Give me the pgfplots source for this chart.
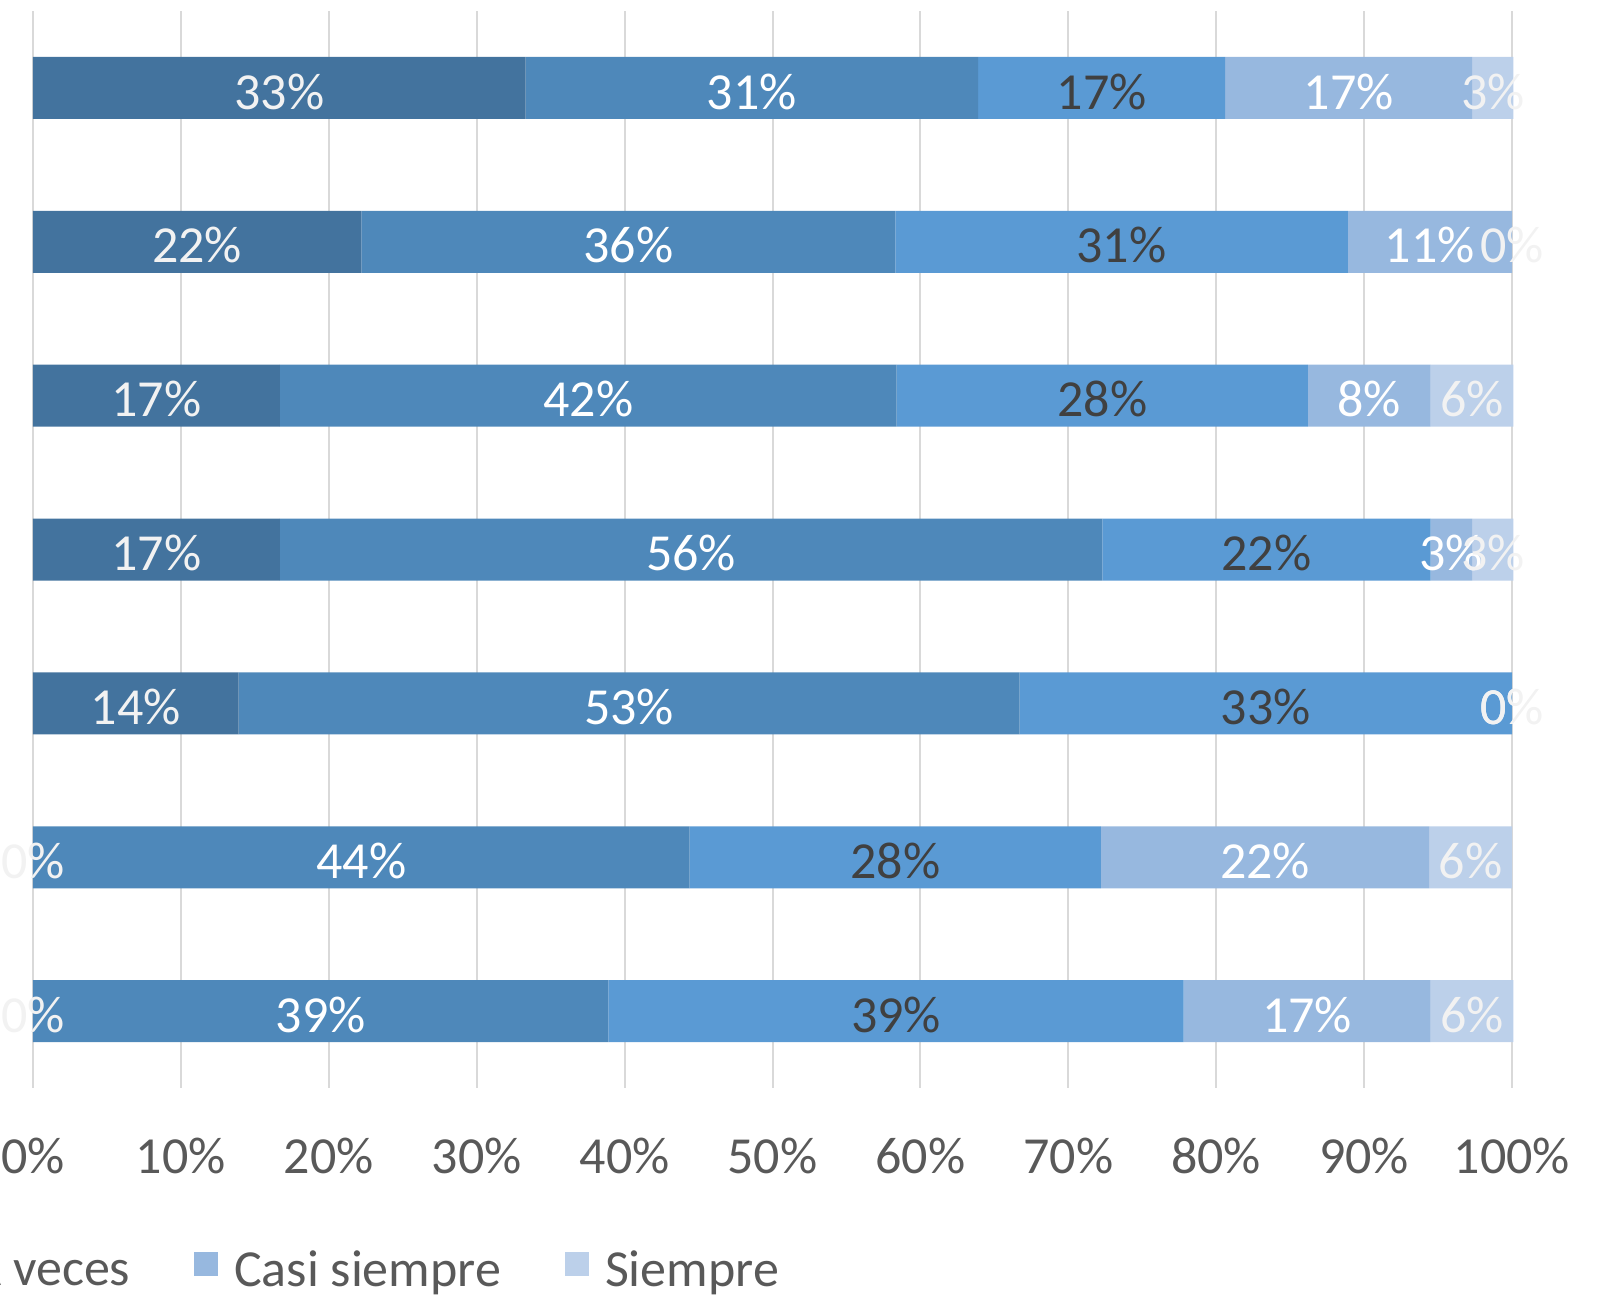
\documentclass[border=0pt]{standalone}
\usepackage{pgfplots}
\pgfplotsset{compat=1.18}
\usepackage{pgfplotstable}
\usepackage{fontspec}
\setmainfont{Carlito}
\definecolor{cA}{HTML}{43739E}
\definecolor{cB}{HTML}{4E88BA}
\definecolor{cC}{HTML}{5A9AD4}
\definecolor{cD}{HTML}{97B8DF}
\definecolor{cE}{HTML}{BCD0EA}
\definecolor{gridc}{HTML}{D9D9D9}
\definecolor{tickc}{HTML}{595959}
\definecolor{darklab}{HTML}{404040}
\definecolor{lightlab}{HTML}{F2F2F2}
% a..e: segment values (percent of 36 answers); xa..xe: centre of each segment
\pgfplotstableread{
y a b c d e xa xb xc xd xe
0 33.3 30.6 16.7 16.7 2.8 16.65 48.60 72.25 88.95 98.70
1 22.2 36.1 30.6 11.1 0.0 11.10 40.25 73.60 94.45 100.00
2 16.7 41.7 27.8 8.3 5.6 8.35 37.55 72.30 90.35 97.30
3 16.7 55.6 22.2 2.8 2.8 8.35 44.50 83.40 95.90 98.70
4 13.9 52.8 33.3 0.0 0.0 6.95 40.30 83.35 100.00 100.00
5 0.0 44.4 27.8 22.2 5.6 0.00 22.20 58.30 83.30 97.20
6 0.0 38.9 38.9 16.7 5.6 0.00 19.45 58.35 86.15 97.30
}\data
\pgfplotsset{
  common/.style={
    at={(8.25pt,-272pt)}, anchor=south west,
    scale only axis, width=369.75pt, height=269.25pt,
    xmin=0, xmax=100, ymin=-0.5, ymax=6.5, y dir=reverse,
    clip=false,
  },
  lab/.style={draw=none, mark=none, point meta=explicit,
    nodes near coords={\pgfmathprintnumber[fixed,precision=0,assume math mode=true]{\pgfplotspointmeta}\%},
    every node near coord/.append style={anchor=center, yshift=-0.9pt, inner sep=0pt, text=#1}},
}
\newcommand{\lt}[1]{\raisebox{2pt}{#1}}
\begin{document}
\begin{tikzpicture}[font=\fontsize{13pt}{15pt}\selectfont]
\useasboundingbox (0pt,0pt) rectangle (403.5pt,-323.5pt);
\begin{axis}[
  common,
  xbar stacked, bar width=15.5pt,
  ytick=\empty,
  xtick={0,10,...,100},
  xticklabels={0\%,10\%,20\%,30\%,40\%,50\%,60\%,70\%,80\%,90\%,100\%},
  xmajorgrids, grid style={draw=gridc, line width=0.5pt},
  major tick length=0pt,
  axis line style={draw=none},
  xticklabel style={anchor=center, yshift=-17pt, text=tickc, inner sep=0pt},
  legend columns=5,
  legend style={at={(axis description cs:0.5044,-0.1744)}, anchor=east,
    draw=none, fill=none, inner sep=0pt, outer sep=0pt,
    nodes={inner sep=0pt, text=tickc},
    /tikz/every odd column/.append style={column sep=4pt},
    /tikz/every even column/.append style={column sep=16pt}},
]
\addplot[fill=cA, draw=none,
  legend image code/.code={\fill[cA] (0pt,0pt) rectangle (6pt,6pt);}]
  table[x=a,y=y]{\data};
\addplot[fill=cB, draw=none,
  legend image code/.code={\fill[cB] (0pt,0pt) rectangle (6pt,6pt);}]
  table[x=b,y=y]{\data};
\addplot[fill=cC, draw=none,
  legend image code/.code={\fill[cC] (0pt,0pt) rectangle (6pt,6pt);}]
  table[x=c,y=y]{\data};
\addplot[fill=cD, draw=none,
  legend image code/.code={\fill[cD] (0pt,0pt) rectangle (6pt,6pt);}]
  table[x=d,y=y]{\data};
\addplot[fill=cE, draw=none,
  legend image code/.code={\fill[cE] (0pt,0pt) rectangle (6pt,6pt);}]
  table[x=e,y=y]{\data};
\legend{\lt{Nunca}, \lt{Casi nunca}, \lt{A veces}, \lt{Casi siempre}, \lt{Siempre}}
\end{axis}
\begin{axis}[common, hide axis]
\addplot[lab=lightlab] table[x=xa,y=y,meta=a]{\data};
\addplot[lab=white]    table[x=xb,y=y,meta=b]{\data};
\addplot[lab=darklab]  table[x=xc,y=y,meta=c]{\data};
\addplot[lab=white]    table[x=xd,y=y,meta=d]{\data};
\addplot[lab=lightlab] table[x=xe,y=y,meta=e]{\data};
\end{axis}
\end{tikzpicture}
\end{document}
